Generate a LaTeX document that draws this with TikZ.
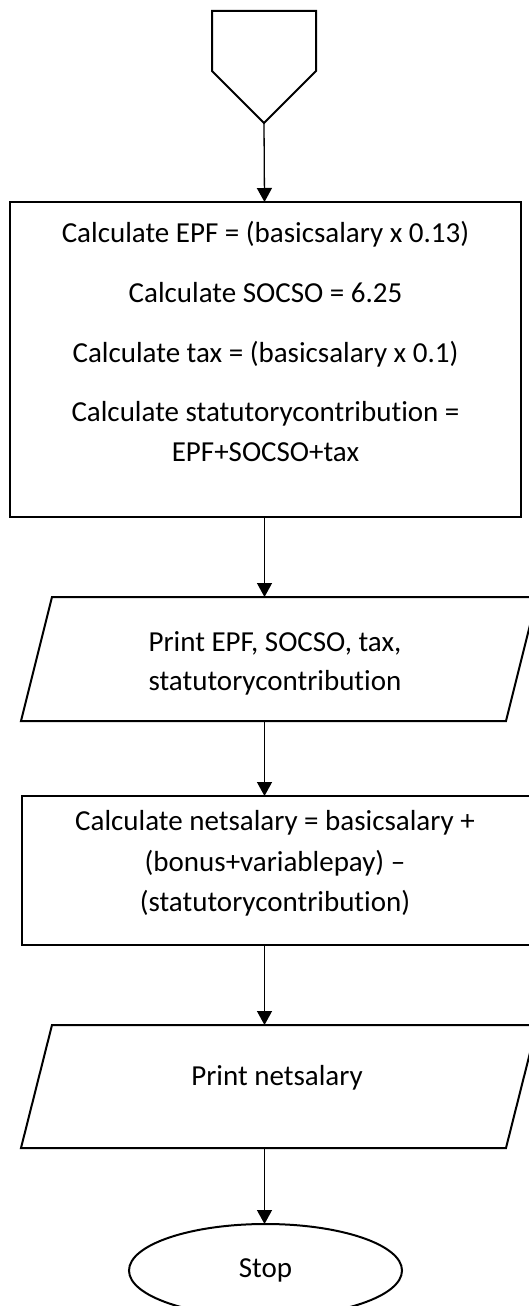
\documentclass[tikz,border=0pt]{standalone}
\usepackage{fontspec}
\setmainfont{Carlito}[Ligatures=NoCommon]
\usetikzlibrary{arrows.meta,shapes.geometric,calc}

\begin{document}
\begin{tikzpicture}[x=1pt,y=-1pt,
  every node/.style={font=\fontsize{29pt}{40pt}\selectfont},
  outline/.style={draw=black,line width=2pt},
  frame/.style={draw=none,inner sep=0pt,outer sep=0pt},
  procbox/.style={outline,rectangle,inner sep=0pt,outer sep=0pt},
  terminal/.style={outline,ellipse,inner sep=0pt,outer sep=0pt,
    minimum width=273pt,minimum height=93pt},
  txt/.style={inner sep=0pt,anchor=base},
  flow/.style={line width=1.3pt,-{Triangle[length=14pt,width=15pt]}}
]
\useasboundingbox (0,0) rectangle (529,1306);

% vertical line along which the connectors run
\coordinate (axis) at (264.5,0);

% off-page connector (pentagon pointing down)
\node[frame,minimum width=104pt,minimum height=112pt] (start) at (264,67) {};
\draw[outline,line join=miter] (start.north west) -- (start.north east)
  -- ([yshift=52pt]start.south east) -- (start.south)
  -- ([yshift=52pt]start.south west) -- cycle;

% first process block
\node[procbox,minimum width=511pt,minimum height=315pt] (calc1) at (265.5,359.5) {};
\node[txt] (c1a) at (265.5,242) {Calculate EPF = (basicsalary x 0.13)};
\node[txt] (c1b) at (265.5,302) {Calculate SOCSO = 6.25};
\node[txt] (c1c) at (265.5,362) {Calculate tax = (basicsalary x 0.1)};
\node[txt] (c1d) at (265.5,421) {Calculate statutorycontribution =};
\node[txt] (c1e) at (265.5,461) {EPF+SOCSO+tax};

% first output (parallelogram)
\node[frame,minimum width=516pt,minimum height=124pt] (print1) at (279,659) {};
\draw[outline] ([xshift=31pt]print1.north west) -- (print1.north east)
  -- ([xshift=-31pt]print1.south east) -- (print1.south west) -- cycle;
\node[txt] (p1a) at (275,651) {Print EPF, SOCSO, tax,};
\node[txt] (p1b) at (275,690) {statutorycontribution};

% second process block
\node[procbox,minimum width=510pt,minimum height=149pt] (calc2) at (277,870.5) {};
\node[txt] (c2a) at (275,830) {Calculate netsalary = basicsalary +};
\node[txt] (c2b) at (275,871) {(bonus+variablepay) –};
\node[txt] (c2c) at (275,911) {(statutorycontribution)};

% second output (parallelogram)
\node[frame,minimum width=516pt,minimum height=123pt] (print2) at (279,1086.5) {};
\draw[outline] ([xshift=31pt]print2.north west) -- (print2.north east)
  -- ([xshift=-31pt]print2.south east) -- (print2.south west) -- cycle;
\node[txt] (p2a) at (277,1085) {Print netsalary};

% terminal
\node[terminal] (stop) at (265.5,1270.5) {Stop};

% connectors
\draw[flow] (start.south) -- (calc1.north -| axis);
\draw[flow] (calc1.south -| axis) -- (print1.north -| axis);
\draw[flow] (print1.south -| axis) -- (calc2.north -| axis);
\draw[flow] (calc2.south -| axis) -- (print2.north -| axis);
\draw[flow] (print2.south -| axis) -- (stop.north -| axis);
\end{tikzpicture}
\end{document}
